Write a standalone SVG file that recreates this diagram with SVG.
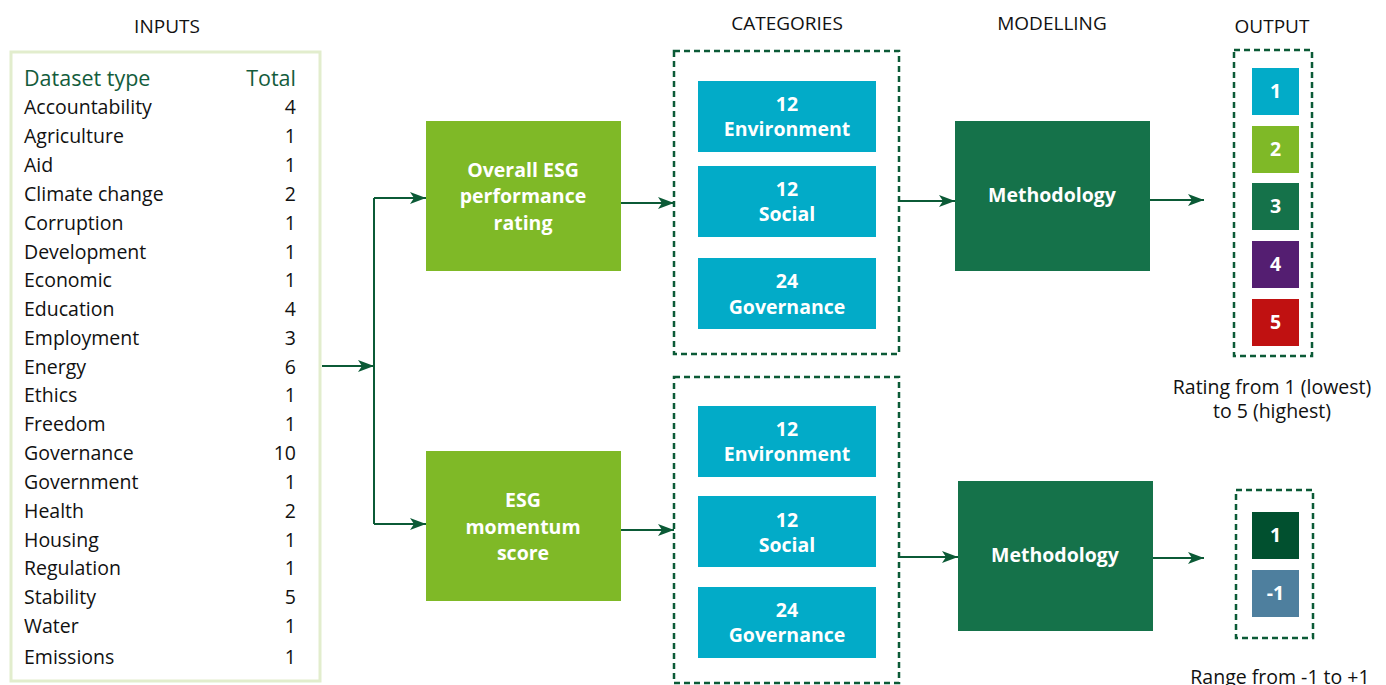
<svg xmlns="http://www.w3.org/2000/svg" width="1386" height="685" viewBox="0 0 1386 685">
<defs>
<marker id="ah" viewBox="0 0 16 12" refX="16" refY="6" markerWidth="16" markerHeight="12" markerUnits="userSpaceOnUse" orient="auto">
<path d="M0,0 L16,6 L0,12 L4,6 Z" fill="#0b5a36"/>
</marker>
<style>
text{font-family:"Open Sans","Liberation Sans",sans-serif;}
.hdr{font-size:19px;fill:#111;text-anchor:middle;}
.row{font-size:19.5px;fill:#111;}
.num{font-size:19.5px;fill:#111;text-anchor:end;}
.th{font-size:21.5px;fill:#135c3c;}
.bt{font-size:19.5px;font-weight:bold;fill:#fff;text-anchor:middle;}
.cap{font-size:19.5px;fill:#111;text-anchor:middle;}
.dash{fill:none;stroke:#0b5a36;stroke-width:2.5;stroke-dasharray:6 4;}
.conn{fill:none;stroke:#0b5a36;stroke-width:2;}
.green{fill:#7fb927;}
.cyan{fill:#02abc8;}
.meth{fill:#15724a;}
</style>
</defs>
<rect width="1386" height="685" fill="#fff"/>

<g id="headers">
<text class="hdr" x="167" y="33">INPUTS</text>
<text class="hdr" x="787" y="30">CATEGORIES</text>
<text class="hdr" x="1052" y="30">MODELLING</text>
<text class="hdr" x="1272" y="33">OUTPUT</text>
</g>

<g id="inputs">
<rect x="11" y="52" width="309" height="629" fill="#fff" stroke="#e2edcd" stroke-width="3"/>
<text class="th" x="24" y="86">Dataset type</text>
<text class="th" x="296" y="86" text-anchor="end">Total</text>
<text class="row" x="24" y="114">Accountability</text><text class="num" x="296" y="114">4</text>
<text class="row" x="24" y="143">Agriculture</text><text class="num" x="296" y="143">1</text>
<text class="row" x="24" y="172">Aid</text><text class="num" x="296" y="172">1</text>
<text class="row" x="24" y="201">Climate change</text><text class="num" x="296" y="201">2</text>
<text class="row" x="24" y="230">Corruption</text><text class="num" x="296" y="230">1</text>
<text class="row" x="24" y="259">Development</text><text class="num" x="296" y="259">1</text>
<text class="row" x="24" y="287">Economic</text><text class="num" x="296" y="287">1</text>
<text class="row" x="24" y="316">Education</text><text class="num" x="296" y="316">4</text>
<text class="row" x="24" y="345">Employment</text><text class="num" x="296" y="345">3</text>
<text class="row" x="24" y="374">Energy</text><text class="num" x="296" y="374">6</text>
<text class="row" x="24" y="402">Ethics</text><text class="num" x="296" y="402">1</text>
<text class="row" x="24" y="431">Freedom</text><text class="num" x="296" y="431">1</text>
<text class="row" x="24" y="460">Governance</text><text class="num" x="296" y="460">10</text>
<text class="row" x="24" y="489">Government</text><text class="num" x="296" y="489">1</text>
<text class="row" x="24" y="518">Health</text><text class="num" x="296" y="518">2</text>
<text class="row" x="24" y="547">Housing</text><text class="num" x="296" y="547">1</text>
<text class="row" x="24" y="575">Regulation</text><text class="num" x="296" y="575">1</text>
<text class="row" x="24" y="604">Stability</text><text class="num" x="296" y="604">5</text>
<text class="row" x="24" y="633">Water</text><text class="num" x="296" y="633">1</text>
<text class="row" x="24" y="664">Emissions</text><text class="num" x="296" y="664">1</text>
</g>

<g id="overall">
<rect class="green" x="426" y="121" width="195" height="150"/>
<text class="bt" x="523" y="177">Overall ESG</text>
<text class="bt" x="523" y="203">performance</text>
<text class="bt" x="523" y="230">rating</text>
</g>
<g id="momentum">
<rect class="green" x="426" y="451" width="195" height="150"/>
<text class="bt" x="523" y="507">ESG</text>
<text class="bt" x="523" y="534">momentum</text>
<text class="bt" x="523" y="560">score</text>
</g>

<g id="categories-top">
<rect class="dash" x="674" y="51" width="225" height="303"/>
<rect class="cyan" x="698" y="81" width="178" height="71"/>
<text class="bt" x="787" y="111">12</text><text class="bt" x="787" y="136">Environment</text>
<rect class="cyan" x="698" y="166" width="178" height="71"/>
<text class="bt" x="787" y="196">12</text><text class="bt" x="787" y="221">Social</text>
<rect class="cyan" x="698" y="258" width="178" height="71"/>
<text class="bt" x="787" y="288">24</text><text class="bt" x="787" y="314">Governance</text>
</g>
<g id="categories-bottom">
<rect class="dash" x="674" y="377" width="225" height="306"/>
<rect class="cyan" x="698" y="406" width="178" height="71"/>
<text class="bt" x="787" y="436">12</text><text class="bt" x="787" y="461">Environment</text>
<rect class="cyan" x="698" y="496" width="178" height="71"/>
<text class="bt" x="787" y="527">12</text><text class="bt" x="787" y="552">Social</text>
<rect class="cyan" x="698" y="587" width="178" height="71"/>
<text class="bt" x="787" y="617">24</text><text class="bt" x="787" y="642">Governance</text>
</g>

<g id="methodology-top">
<rect class="meth" x="955" y="121" width="195" height="150"/>
<text class="bt" x="1052" y="202">Methodology</text>
</g>
<g id="methodology-bottom">
<rect class="meth" x="958" y="481" width="195" height="150"/>
<text class="bt" x="1055" y="562">Methodology</text>
</g>

<g id="output-top">
<rect class="dash" x="1234" y="50" width="78" height="306"/>
<rect x="1252" y="68" width="47" height="47" fill="#02abc8"/><text class="bt" x="1275.5" y="98">1</text>
<rect x="1252" y="126" width="47" height="47" fill="#7fb927"/><text class="bt" x="1275.5" y="156">2</text>
<rect x="1252" y="183" width="47" height="47" fill="#15724a"/><text class="bt" x="1275.5" y="213">3</text>
<rect x="1252" y="241" width="47" height="47" fill="#541e71"/><text class="bt" x="1275.5" y="271">4</text>
<rect x="1252" y="299" width="47" height="47" fill="#c01111"/><text class="bt" x="1275.5" y="329">5</text>
<text class="cap" x="1272" y="394">Rating from 1 (lowest)</text>
<text class="cap" x="1272" y="418">to 5 (highest)</text>
</g>
<g id="output-bottom">
<rect class="dash" x="1236" y="490" width="77" height="148"/>
<rect x="1252" y="512" width="47" height="47" fill="#01502f"/><text class="bt" x="1275.5" y="542">1</text>
<rect x="1252" y="570" width="47" height="47" fill="#4e7f9e"/><text class="bt" x="1275.5" y="600">-1</text>
<text class="cap" x="1280" y="684">Range from -1 to +1</text>
</g>

<g id="connectors">
<path class="conn" d="M322,366 H374" marker-end="url(#ah)"/>
<path class="conn" d="M374,198 V524"/>
<path class="conn" d="M374,198 H426" marker-end="url(#ah)"/>
<path class="conn" d="M374,524 H426" marker-end="url(#ah)"/>
<path class="conn" d="M621,203 H674" marker-end="url(#ah)"/>
<path class="conn" d="M621,530 H674" marker-end="url(#ah)"/>
<path class="conn" d="M899,201 H955" marker-end="url(#ah)"/>
<path class="conn" d="M899,557 H958" marker-end="url(#ah)"/>
<path class="conn" d="M1150,200 H1204" marker-end="url(#ah)"/>
<path class="conn" d="M1153,558 H1204" marker-end="url(#ah)"/>
</g>
</svg>
